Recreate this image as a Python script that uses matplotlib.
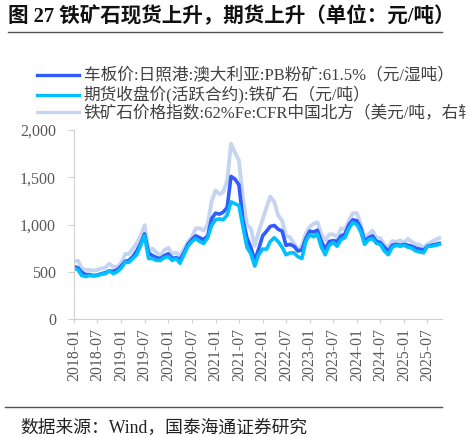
import matplotlib
matplotlib.use("Agg")
import matplotlib.pyplot as plt
import matplotlib.dates as mdates
import pandas as pd
from matplotlib.lines import Line2D

plt.rcParams["font.family"] = ["Liberation Serif", "Noto Sans CJK SC", "DejaVu Sans"]

DARK, CYAN, LIGHT = "#2f5bff", "#00c0ff", "#c5d5ef"
GRAY = "#595959"

# 月度数据 2018-01 ~ 2025-10
spot = [555, 540, 495, 470, 470, 460, 465, 480, 490, 510, 505, 520,
        560, 610, 620, 660, 720, 800, 900, 700, 670, 650, 640, 670,
        690, 640, 650, 630, 700, 790, 840, 880, 860, 840, 880, 1060,
        1120, 1110, 1130, 1180, 1510, 1480, 1420, 1050, 860, 760, 620, 740,
        880, 930, 980, 990, 950, 930, 780, 790, 770, 720, 730, 850,
        930, 920, 940, 820, 740, 820, 830, 820, 880, 900, 1000, 1050,
        1040, 960, 820, 860, 880, 820, 810, 760, 720, 780, 790, 780,
        790, 780, 770, 750, 740, 730, 770, 780, 790, 800]
futures = [540, 520, 460, 450, 460, 455, 460, 475, 480, 510, 480, 500,
           540, 600, 600, 640, 680, 780, 880, 640, 640, 620, 620, 650,
           660, 620, 640, 590, 680, 770, 820, 850, 820, 800, 860, 990,
           1050, 1060, 1050, 1100, 1240, 1220, 1200, 980, 760, 690, 560, 680,
           740, 740, 820, 860, 820, 760, 680, 700, 700, 660, 640, 820,
           890, 870, 900, 760, 680, 780, 810, 770, 840, 860, 960, 1020,
           1000, 920, 790, 840, 850, 800, 790, 720, 680, 760, 780, 770,
           780, 760, 750, 720, 710, 700, 770, 770, 780, 790]
index_usd = [76, 77, 67, 65, 65, 64, 65, 67, 68, 73, 69, 69,
             74, 86, 86, 93, 100, 110, 124, 90, 93, 88, 84, 91,
             94, 86, 88, 84, 92, 102, 108, 120, 120, 117, 125, 155,
             170, 165, 168, 182, 232, 220, 210, 160, 125, 120, 97, 115,
             132, 148, 162, 155, 137, 130, 110, 108, 100, 92, 96, 113,
             122, 126, 128, 112, 104, 112, 112, 108, 120, 118, 130, 140,
             140, 125, 108, 112, 117, 107, 107, 98, 95, 103, 102, 104,
             101, 106, 102, 99, 98, 94, 99, 102, 105, 107]
dates = pd.date_range("2018-01-01", periods=len(spot), freq="MS")

labels = ["车板价:日照港:澳大利亚:PB粉矿:61.5%（元/湿吨）",
          "期货收盘价(活跃合约):铁矿石（元/吨）",
          "铁矿石价格指数:62%Fe:CFR中国北方（美元/吨，右轴）"]

fig = plt.figure(figsize=(4.66, 4.37), dpi=100)
ax = fig.add_axes([0.159, 0.270, 0.789, 0.4325])
ax2 = ax.twinx()

ax.plot(dates, spot, color=DARK, lw=2.6)
ax.plot(dates, futures, color=CYAN, lw=2.6)
ax2.plot(dates, index_usd, color=LIGHT, lw=2.8)
ax.set_zorder(ax2.get_zorder() + 1)
ax.patch.set_visible(False)

ax.set_ylim(0, 2000)
ax2.set_ylim(0, 250)
ax.set_xlim(pd.Timestamp("2018-01-01"), pd.Timestamp("2025-10-20"))
ax.set_yticks([0, 500, 1000, 1500, 2000])
ax.yaxis.set_major_formatter(matplotlib.ticker.FuncFormatter(lambda v, p: f"{v:,.0f}"))
ax.xaxis.set_major_locator(mdates.MonthLocator(bymonth=[1, 7]))
ax.xaxis.set_major_formatter(mdates.DateFormatter("%Y-%m"))
ax.tick_params(axis="x", rotation=90, labelsize=11.3, colors=GRAY, length=3, color="#d0d0d0")
ax.tick_params(axis="y", labelsize=11.5, colors=GRAY, length=4, pad=9, color="#d0d0d0")
for s in ("top", "right"):
    ax.spines[s].set_visible(False)
for s in ("left", "bottom"):
    ax.spines[s].set_color("#d0d0d0")
for s in ax2.spines.values():
    s.set_visible(False)
ax2.set_yticks([])

handles = [Line2D([], [], color=c, lw=2.4) for c in (DARK, CYAN, LIGHT)]
fig.legend(handles, labels, loc="upper left", bbox_to_anchor=(0.065, 0.858),
           frameon=False, fontsize=12, handlelength=2.5, handletextpad=0.3,
           labelspacing=0.1, labelcolor="#404040", borderaxespad=0)

fig.text(0.017, 0.961, "图 27 铁矿石现货上升，期货上升（单位：元/吨）",
         fontsize=14.8, fontweight="bold", va="center", color="#111111")
fig.add_artist(Line2D([0.017, 0.948], [0.927, 0.927], color="#555555", lw=1.0))
fig.add_artist(Line2D([0.011, 0.948], [0.069, 0.069], color="#555555", lw=1.0))
fig.text(0.043, 0.021, "数据来源：Wind，国泰海通证券研究", fontsize=12.8, va="center", color="#222222")

fig.savefig("out.png", dpi=100)
